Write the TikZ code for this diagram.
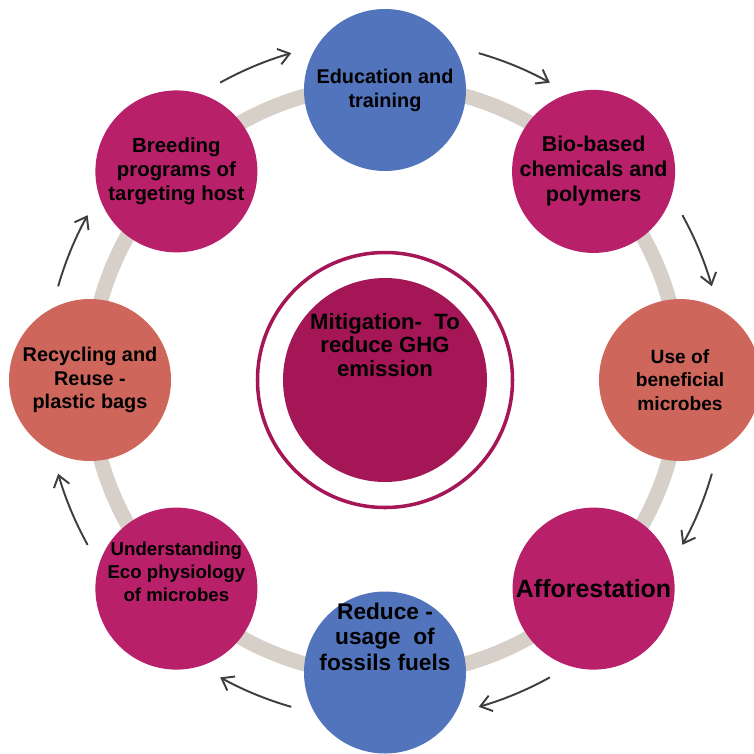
\documentclass[tikz,border=0pt]{standalone}
\usepackage{fontspec}
\setmainfont{Liberation Sans}
\usepackage{xcolor}
\usetikzlibrary{arrows.meta,positioning}

\definecolor{magent}{RGB}{184,32,106}
\definecolor{darkmag}{RGB}{165,22,86}
\definecolor{stblue}{RGB}{82,116,188}
\definecolor{salmon}{RGB}{206,102,91}
\definecolor{ringgray}{RGB}{214,208,201}
\definecolor{arrgray}{RGB}{62,62,62}

\begin{document}
\begin{tikzpicture}
[stage/.style = {circle, minimum size=3.24cm, inner sep=0pt, align=center,
   text=black, font=\bfseries\fontsize{11.3}{13.6}\selectfont},
 stagetext/.style = {align=center, text=black, inner sep=0pt},
 flow/.style = {arrgray, line width=1.1pt, -{Straight Barb[length=2.2mm,width=3.2mm]}}]
  \useasboundingbox (-7.7,-7.46) rectangle (7.38,7.6);

  % grey ring behind the stages
  \draw[ringgray, line width=0.3cm] (0,0) circle (5.9);

  % centre
  \draw[darkmag, line width=2pt] (0,0) circle (2.55);
  \node[circle, fill=darkmag, minimum size=4.08cm, inner sep=0pt] (mit) at (0,0) {};
  \node[stagetext, font=\bfseries\fontsize{12.6}{13.6}\selectfont] (mittxt)
    at ([yshift=0.7cm]mit.center) {Mitigation-~ To\\reduce GHG\\emission};

  % stages round the ring
  \node[stage, fill=stblue] (edu) at (90:5.8) {Education and\\training};
  \node[stage, fill=magent, font=\bfseries\fontsize{12.2}{14.2}\selectfont] (bio) at (45:5.9)
    {Bio-based\\chemicals and\\polymers};
  \node[stage, fill=salmon, font=\bfseries\fontsize{10.9}{13.4}\selectfont] (mic) at (0:5.9)
    {Use of\\beneficial\\microbes};
  \node[stage, fill=magent, font=\bfseries\fontsize{14.2}{16}\selectfont] (aff) at (-45:5.9)
    {Afforestation};
  \node[stage, fill=stblue] (red) at (-90:5.85) {};
  \node[stagetext, font=\bfseries\fontsize{12.9}{14.5}\selectfont] (redtxt)
    at ([yshift=0.72cm]red.center) {Reduce -\\usage~ of\\fossils fuels};
  \node[stage, fill=magent] (eco) at (-135:5.9) {};
  \node[stagetext, font=\bfseries\fontsize{10.6}{13}\selectfont] (ecotxt)
    at ([yshift=0.34cm]eco.center) {Understanding\\Eco physiology\\of microbes};
  \node[stage, fill=salmon] (rec) at (180:5.9) {Recycling and\\Reuse -\\plastic bags};
  \node[stage, fill=magent, font=\bfseries\fontsize{11.6}{13.6}\selectfont] (brd) at (135:5.9)
    {Breeding\\programs of\\targeting host};

  % clockwise arrows outside the ring
  \foreach \a in {112.5,67.5,22.5,-22.5,-67.5,-112.5,-157.5,157.5}
    \draw[flow] ({\a+6.5}:6.8) arc[start angle={\a+6.5}, end angle={\a-6.5}, radius=6.8];
\end{tikzpicture}
\end{document}
